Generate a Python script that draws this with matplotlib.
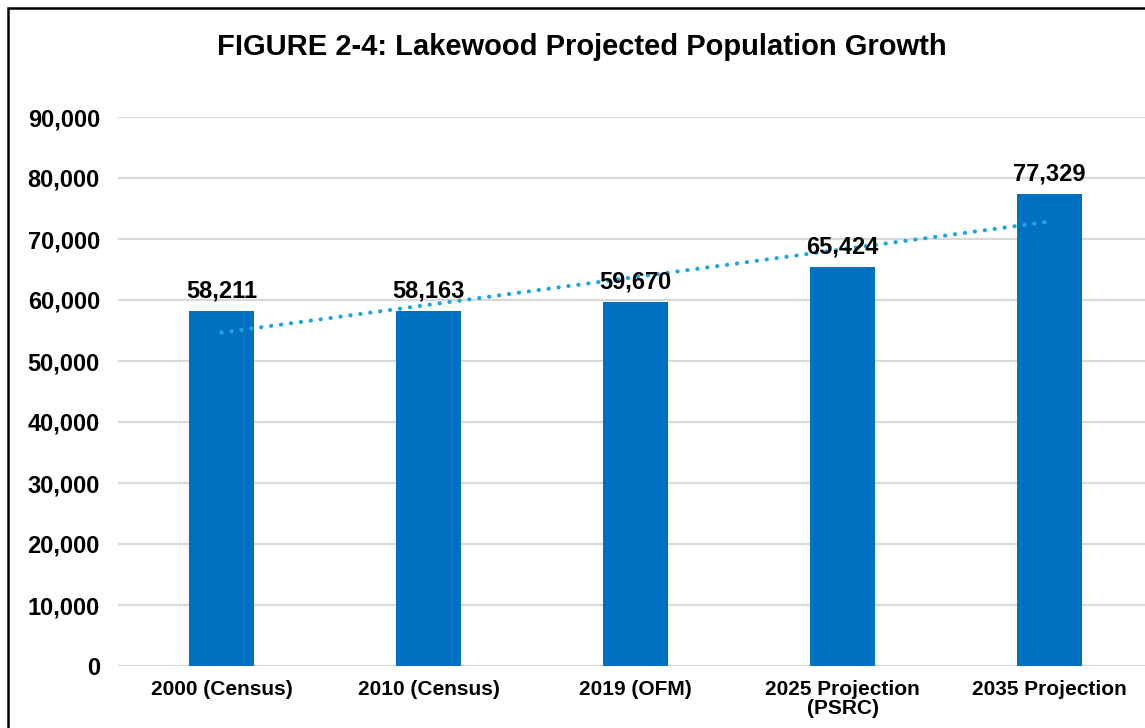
import matplotlib
matplotlib.use("Agg")
import matplotlib.pyplot as plt
from matplotlib.patches import Rectangle
from matplotlib.ticker import FuncFormatter
import numpy as np

plt.rcParams['font.family'] = ['Liberation Sans', 'DejaVu Sans']

categories = ["2000 (Census)", "2010 (Census)", "2019 (OFM)",
              "2025 Projection\n(PSRC)", "2035 Projection"]
population = [58211, 58163, 59670, 65424, 77329]
y_ticks = [0, 10000, 20000, 30000, 40000, 50000, 60000, 70000, 80000, 90000]

W, H = 1145, 728
fig = plt.figure(figsize=(W / 100, H / 100), dpi=100)

# axes placed to match the reference pixel box
ax = fig.add_axes([118 / W, (H - 666) / H, 1035 / W, 549 / H])

x = np.arange(len(categories))
bars = ax.bar(x, population, width=0.315, color="#0070C0", zorder=3)

# linear trendline through the bars, round dots
coef = np.polyfit(x, population, 1)
ax.plot(x, np.polyval(coef, x), color="#1CA7E0", linewidth=3.0,
        linestyle=(0, (0.05, 2.35)), dash_capstyle="round", zorder=4)

for b, v in zip(bars, population):
    ax.annotate("{:,}".format(v), (b.get_x() + b.get_width() / 2, v),
                xytext=(0, 6), textcoords="offset points",
                ha="center", va="bottom", fontsize=17, fontweight="bold",
                zorder=5)

ax.set_xlim(-0.5, len(categories) - 0.5)
ax.set_ylim(0, 90000)
ax.set_yticks(y_ticks)
ax.yaxis.set_major_formatter(FuncFormatter(lambda v, p: "{:,}".format(int(v))))
ax.set_xticks(x)
ax.set_xticklabels(categories, fontsize=15, fontweight="bold", linespacing=1.0)
for t in ax.get_yticklabels():
    t.set_fontsize(17)
    t.set_fontweight("bold")
ax.tick_params(axis="both", length=0)
ax.tick_params(axis="y", pad=13)
ax.tick_params(axis="x", pad=10)
ax.grid(axis="y", color="#D9D9D9", linewidth=1.6, zorder=0)
for s in ax.spines.values():
    s.set_visible(False)

fig.text(582 / W, (H - 47) / H, "FIGURE 2-4: Lakewood Projected Population Growth",
         ha="center", va="center", fontsize=21, fontweight="bold")

fig.patches.append(Rectangle((7.5 / W, -0.1), 1.2, (H - 8.5) / H + 0.1,
                             transform=fig.transFigure, fill=False,
                             edgecolor="black", linewidth=1.8))

fig.savefig("out.png", dpi=100)
